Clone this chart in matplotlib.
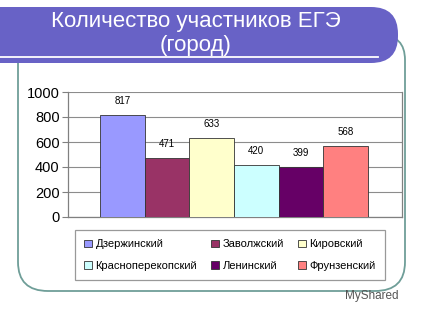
import matplotlib.pyplot as plt
from matplotlib.patches import FancyBboxPatch, PathPatch
from matplotlib.path import Path
from matplotlib.font_manager import fontManager

# data
districts = ["Дзержинский", "Заволжский", "Кировский",
             "Красноперекопский", "Ленинский", "Фрунзенский"]
counts = [817, 471, 633, 420, 399, 568]
colors = ["#9999FF", "#993366", "#FFFFCC", "#CCFFFF", "#660066", "#FF8080"]
yticks = [0, 200, 400, 600, 800, 1000]
title_lines = ["Количество участников ЕГЭ", "(город)"]

names = {f.name for f in fontManager.ttflist}
narrow = "Liberation Sans Narrow" if "Liberation Sans Narrow" in names else "Liberation Sans"
plt.rcParams["font.family"] = ["Liberation Sans", "DejaVu Sans"]

W, H = 427, 320
fig = plt.figure(figsize=(W / 100, H / 100), dpi=100)
fig.patch.set_facecolor("white")

# slide background layer in pixel coords
bg = fig.add_axes([0, 0, 1, 1], zorder=0)
bg.set_xlim(0, W)
bg.set_ylim(H, 0)
bg.axis("off")

# teal frame
verts = [(18, 63), (18, 262), (18, 291), (48, 291), (375, 291),
         (405, 291), (405, 262), (405, 60), (405, 35), (380, 35)]
codes = [Path.MOVETO, Path.LINETO, Path.CURVE3, Path.CURVE3, Path.LINETO,
         Path.CURVE3, Path.CURVE3, Path.LINETO, Path.CURVE3, Path.CURVE3]
bg.add_patch(PathPatch(Path(verts, codes), fill=False, edgecolor="#6F9E98", lw=1.3))

# title banner
bg.add_patch(FancyBboxPatch((-40, 7), 438, 56,
                            boxstyle="round,pad=0,rounding_size=27",
                            facecolor="#6862C6", edgecolor="none"))
bg.plot([0, 378], [57, 57], color="white", lw=1.3)
bg.text(196, 21, title_lines[0], color="white", fontsize=16, ha="center", va="center")
bg.text(196, 45, title_lines[1], color="white", fontsize=16, ha="center", va="center")

bg.text(345, 296, "MyShared", color="#555555", fontsize=8.5, ha="left", va="center")

# chart
ax = fig.add_axes([68 / W, 1 - 217 / H, (402 - 68) / W, (217 - 92) / H], zorder=1)
x = list(range(len(counts)))
bars = ax.bar(x, counts, width=1.0, color=colors, edgecolor="#333333", lw=0.6, zorder=3)
for xi, v in zip(x, counts):
    ax.annotate(str(v), (xi, v), xytext=(0, 10), textcoords="offset points",
                ha="center", va="center", fontsize=7, fontfamily=narrow)

ax.set_xlim(-0.5 - 32 / 44.67, 5.5 + 34 / 44.67)
ax.set_ylim(0, 1000)
ax.set_yticks(yticks)
ax.set_yticklabels([str(t) for t in yticks], fontsize=10.5, fontfamily=narrow)
ax.set_xticks([])
ax.yaxis.grid(True, color="#8C8C8C", lw=0.8, zorder=0)
ax.tick_params(axis="y", length=4, color="#808080", pad=2)
ax.spines["top"].set_visible(False)
for s in ["left", "right", "bottom"]:
    ax.spines[s].set_color("#808080")
    ax.spines[s].set_linewidth(0.9)

# legend filled row by row (matplotlib fills columns first)
order = [0, 3, 1, 4, 2, 5]
leg = fig.legend([bars[i] for i in order], [districts[i] for i in order],
                 loc="lower left",
                 bbox_to_anchor=(75 / W, 1 - 280 / H, (385 - 75) / W, (280 - 231) / H),
                 mode="expand", ncol=3, frameon=True, fancybox=False,
                 handlelength=0.7, handleheight=0.7, handletextpad=0.3,
                 borderaxespad=0, borderpad=0.85, labelspacing=1.0,
                 prop={"family": narrow, "size": 8})
leg.get_frame().set_edgecolor("#808080")
leg.get_frame().set_linewidth(0.9)

fig.savefig("out.png", dpi=100)
